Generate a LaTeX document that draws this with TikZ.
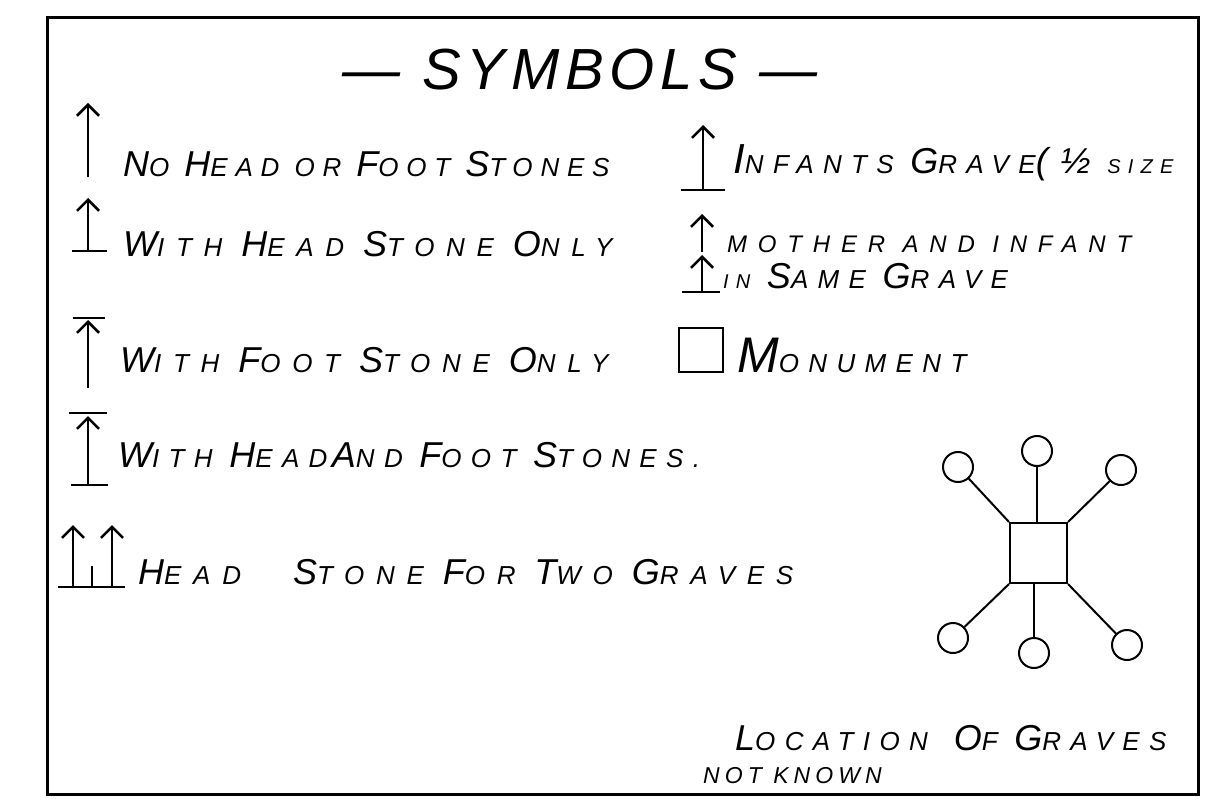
\documentclass[tikz,border=0pt]{standalone}
\usepackage{fontspec}
\setmainfont{Liberation Sans}[LetterSpace=36]
\usetikzlibrary{arrows.meta}
\newcommand\Bsz{\fontsize{36}{40}\selectfont}
\newcommand\Ssz{\fontsize{26}{30}\selectfont}
\newcommand\Tsz{\fontsize{58}{62}\selectfont\addfontfeature{LetterSpace=10}}
\newcommand\Wide{\addfontfeature{LetterSpace=45}}
\newcommand\Ww[2]{{\Bsz#1}#2}
\tikzset{
  lbl/.style={anchor=base west, inner sep=0pt, font=\Ssz\itshape},
  grave/.style={line width=1.6pt, -{Straight Barb[length=11pt,width=22pt,line width=2.6pt]}},
  stone/.style={line width=2.4pt},
  plot/.style={draw, line width=2pt, inner sep=0pt},
}
\begin{document}
\begin{tikzpicture}[x=1pt,y=-1pt]
\useasboundingbox (0,0) rectangle (1209,802);
% frame
\draw[line width=3pt] (47,18) rectangle (1198,794);
\node[anchor=base, inner sep=0pt, font=\Tsz\itshape] (title) at (580,90) {—\ SYMBOLS\ —};
% left column
\draw[grave] (88,177) -- (88,103);
\node[lbl, font=\Ssz\itshape\addfontfeature{LetterSpace=30}] (nostone) at (123,177) {\Ww{N}{O} \Ww{H}{EAD} OR \Ww{F}{OOT} \Ww{S}{TONES}};
\draw[grave] (88,251) -- (88,198);
\draw[stone] (72,251) -- (107,251);
\node[lbl, font=\Ssz\itshape\Wide] (headonly) at (123,257) {\Ww{W}{ITH} \Ww{H}{EAD} \Ww{S}{TONE} \Ww{O}{NLY}};
\draw[stone] (73,318) -- (105,318);
\draw[grave] (88,388) -- (88,320);
\node[lbl, font=\Ssz\itshape\Wide] (footonly) at (120,372) {\Ww{W}{ITH} \Ww{F}{OOT} \Ww{S}{TONE} \Ww{O}{NLY}};
\draw[stone] (69,413) -- (107,413);
\draw[grave] (88,485) -- (88,416);
\draw[stone] (71,485) -- (108,485);
\node[lbl] (headfoot) at (118,467) {\Ww{W}{ITH} \Ww{H}{EAD}\,\Ww{A}{ND} \Ww{F}{OOT} \Ww{S}{TONES}.};
\draw[grave] (73,587) -- (73,525);
\draw[grave] (112,587) -- (112,525);
\draw[stone] (92,587) -- (92,566);
\draw[stone] (58,587) -- (125,587);
\node[lbl, font=\Ssz\itshape\Wide] (twograves) at (138,584) {\Ww{H}{EAD}\qquad\Ww{S}{TONE} \Ww{F}{OR} \Ww{T}{WO} \Ww{G}{RAVES}};
% right column
\draw[grave] (703,190) -- (703,125);
\draw[stone] (681,190) -- (725,190);
\node[lbl] (infant) at (733,174) {{\fontsize{42}{44}\selectfont I}NFANTS \Ww{G}{RAVE}{\Bsz(}{\Bsz ½} {\fontsize{20}{22}\selectfont SIZE}};
\draw[grave] (702,252) -- (702,214);
\draw[grave] (702,292) -- (702,255);
\draw[stone] (682,292) -- (720,292);
\node[lbl, font=\fontsize{24}{26}\selectfont\itshape\addfontfeature{LetterSpace=45}] (mother) at (727,252) {MOTHER AND INFANT};
\node[lbl] (same) at (723,288) {{\fontsize{20}{22}\selectfont IN} \Ww{S}{AME} \Ww{G}{RAVE}};
\node[plot, minimum size=44pt] (monsym) at (700.5,350) {};
\node[lbl] (monument) at (737,372) {{\fontsize{50}{52}\selectfont M}ONUMENT};
% location of graves
\node[plot, minimum width=57pt, minimum height=60pt] (monu) at (1038.5,553) {};
\node[plot, circle, minimum size=30pt] (ga) at (958,467) {};
\node[plot, circle, minimum size=30pt] (gb) at (1037,451) {};
\node[plot, circle, minimum size=30pt] (gc) at (1121,470) {};
\node[plot, circle, minimum size=30pt] (gd) at (953,638) {};
\node[plot, circle, minimum size=30pt] (ge) at (1034,653) {};
\node[plot, circle, minimum size=30pt] (gf) at (1127,645) {};
\draw[line width=2pt] (ga) -- (monu.north west);
\draw[line width=2pt] (gb) -- (gb |- monu.north);
\draw[line width=2pt] (gc) -- (monu.north east);
\draw[line width=2pt] (gd) -- (monu.south west);
\draw[line width=2pt] (ge) -- (ge |- monu.south);
\draw[line width=2pt] (gf) -- (monu.south east);
\node[lbl] (location) at (735,750) {\Ww{L}{OCATION}\quad\Ww{O}{F} \Ww{G}{RAVES}};
\node[lbl, font=\fontsize{23}{25}\selectfont\itshape\addfontfeature{LetterSpace=22}] (unknown) at (703,783) {NOT KNOWN};
\end{tikzpicture}
\end{document}
